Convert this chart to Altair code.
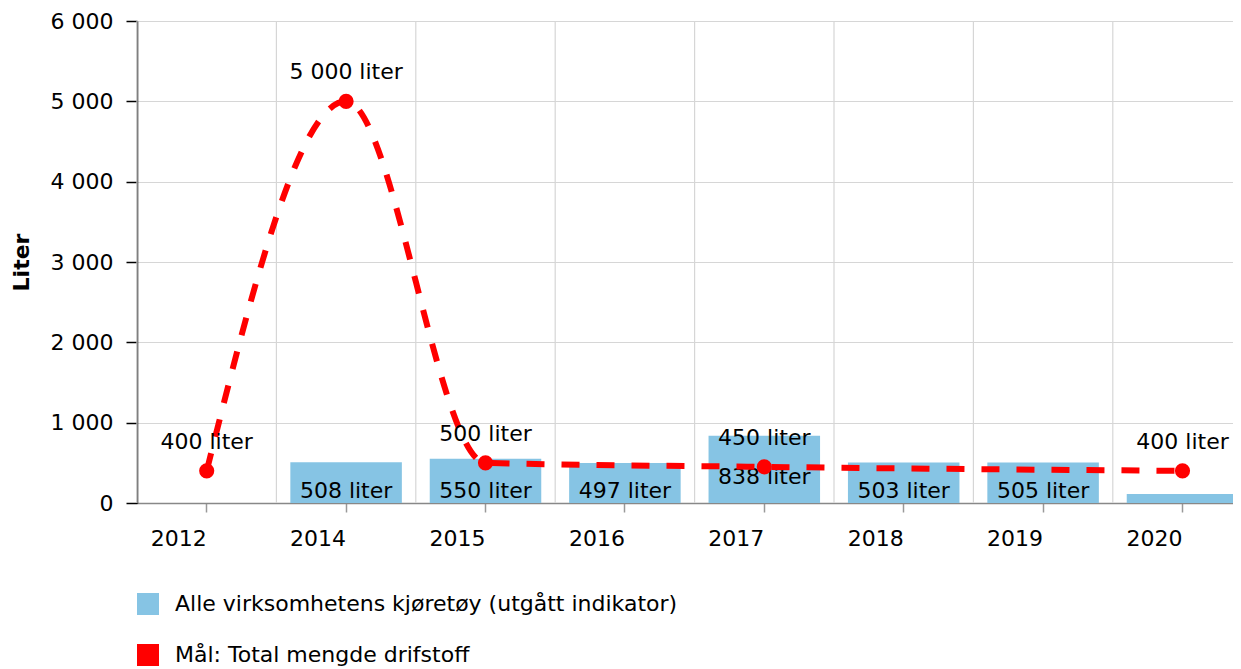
import altair as alt
import pandas as pd

# ---- data ----
years = ["2012", "2014", "2015", "2016", "2017", "2018", "2019", "2020"]
bar_values = [None, 508, 550, 497, 838, 503, 505, 112]
bar_labeled = [False, True, True, True, True, True, True, False]
line_years = ["2012", "2014", "2015", "2017", "2020"]
line_values = [400, 5000, 500, 450, 400]

bar_name = "Alle virksomhetens kjøretøy (utgått indikator)"
line_name = "Mål: Total mengde drifstoff"

FONT = "DejaVu Sans"
FS = 22
BLUE = "#86c4e4"
RED = "#ff0000"
GRID = "#d6d6d6"


def fmt(v):
    return f"{int(v):,}".replace(",", " ") + " liter"


bars = pd.DataFrame({
    "year": years,
    "value": bar_values,
    "label": [fmt(v) if (v is not None and s) else "" for v, s in zip(bar_values, bar_labeled)],
    "series": bar_name,
})
bars = bars[bars["value"].notna()]

line = pd.DataFrame({
    "year": line_years,
    "value": line_values,
    "label": [fmt(v) for v in line_values],
})

cats = pd.DataFrame({"year": years})

STEP = 139.4
W, H = 1096, 482
xscale = alt.Scale(domain=years, paddingInner=0, paddingOuter=0, range=[0, STEP * len(years)])
yscale = alt.Scale(domain=[0, 6000], nice=False)

x_main = alt.X("year:N", scale=xscale, sort=years, title=None,
               axis=alt.Axis(grid=False, labelFont=FONT, labelFontSize=FS, labelColor="#000",
                             labelAngle=0, labelPadding=16, tickSize=9, tickColor="#999",
                             tickWidth=1.5, domainColor="#888", domainWidth=1.5,
                             labelBaseline="top"))

y_enc = alt.Y("value:Q", scale=yscale, title="Liter",
              axis=alt.Axis(values=[0, 1000, 2000, 3000, 4000, 5000, 6000],
                            labelExpr="replace(format(datum.value, ','), ',', ' ')",
                            labelFont=FONT, labelFontSize=FS, labelColor="#000", labelPadding=13,
                            tickSize=11, tickColor="#000", tickWidth=1.5, domainColor="#000",
                            domainWidth=1.5, grid=True, gridColor=GRID, gridWidth=1.2,
                            titleFont=FONT, titleFontSize=FS, titleFontWeight="bold",
                            titleColor="#000", titlePadding=17))

vgrid = alt.Chart(cats).mark_rule(color=GRID, strokeWidth=1.2).encode(
    x=alt.X("year:N", scale=xscale, sort=years, bandPosition=0),
)

bar_layer = alt.Chart(bars).mark_bar(width=alt.RelativeBandSize(0.8)).encode(
    x=x_main,
    y=y_enc,
    color=alt.Color("series:N",
                    scale=alt.Scale(domain=[bar_name, line_name], range=[BLUE, RED]),
                    legend=alt.Legend(title=None, orient="none", legendX=0, legendY=572,
                                      direction="vertical", symbolType="square", symbolSize=484,
                                      symbolStrokeWidth=0, labelFont=FONT, labelFontSize=FS,
                                      labelColor="#000", labelOffset=16, rowPadding=29,
                                      padding=0, labelLimit=0)),
)

# a tall bar's label is lifted so it stays clear of the line label above it
bar_text = alt.Chart(bars).transform_calculate(
    ly="datum.value > 700 ? 175 : 0"
).mark_text(font=FONT, fontSize=FS, color="#000", baseline="middle", dy=-12).encode(
    x=alt.X("year:N", scale=xscale, sort=years),
    y=alt.Y("ly:Q", scale=yscale),
    text="label:N",
)

line_layer = alt.Chart(line).mark_line(
    color=RED, strokeWidth=6, strokeDash=[18, 17], interpolate="monotone"
).encode(
    x=alt.X("year:N", scale=xscale, sort=years),
    y=alt.Y("value:Q", scale=yscale),
)

point_layer = alt.Chart(line).mark_point(filled=True, color=RED, size=230, opacity=1).encode(
    x=alt.X("year:N", scale=xscale, sort=years),
    y=alt.Y("value:Q", scale=yscale),
)

line_text = alt.Chart(line).mark_text(font=FONT, fontSize=FS, color="#000", baseline="middle",
                                      dy=-29).encode(
    x=alt.X("year:N", scale=xscale, sort=years),
    y=alt.Y("value:Q", scale=yscale),
    text="label:N",
)

chart = alt.layer(vgrid, bar_layer, bar_text, line_layer, point_layer, line_text).properties(
    width=W, height=H,
    autosize=alt.AutoSizeParams(type="none"),
    padding={"left": 129, "top": 13, "right": 0, "bottom": 190},
).configure_view(stroke=None).configure(font=FONT)

chart.save("out.html", embed_options={"renderer": "svg", "actions": False})
